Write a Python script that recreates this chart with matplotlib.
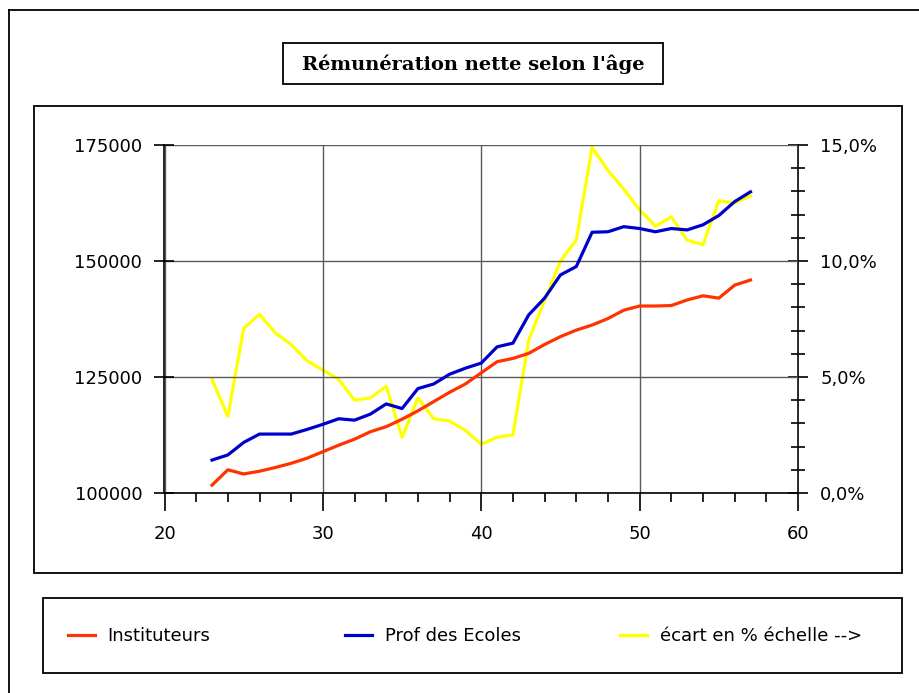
import matplotlib
matplotlib.use("Agg")
import matplotlib.pyplot as plt
from matplotlib.patches import Rectangle
from matplotlib.lines import Line2D
from matplotlib.ticker import MultipleLocator, FuncFormatter

# data
ages = [23, 24, 25, 26, 27, 28, 29, 30, 31, 32, 33, 34, 35, 36, 37, 38, 39, 40,
        41, 42, 43, 44, 45, 46, 47, 48, 49, 50, 51, 52, 53, 54, 55, 56, 57]
instituteurs = [101700, 105000, 104100, 104700, 105500, 106400, 107500, 108900,
                110300, 111600, 113200, 114300, 115900, 117700, 119700, 121700,
                123500, 125900, 128300, 129000, 130100, 132000, 133700, 135100,
                136200, 137600, 139400, 140300, 140300, 140400, 141600, 142500,
                142000, 144800, 145900]
prof_ecoles = [107100, 108200, 110900, 112700, 112700, 112700, 113700, 114800,
               116000, 115700, 117000, 119200, 118200, 122500, 123500, 125600,
               126900, 128000, 131500, 132300, 138400, 142000, 147000, 148800,
               156200, 156300, 157400, 157000, 156300, 157000, 156700, 157800,
               159800, 162800, 164900]
ecart = [4.9, 3.3, 7.1, 7.7, 6.9, 6.4, 5.7, 5.3, 4.9, 4.0, 4.1, 4.6, 2.4, 4.1,
         3.2, 3.1, 2.7, 2.1, 2.4, 2.5, 6.6, 8.3, 10.0, 10.9, 14.9, 13.9, 13.1,
         12.2, 11.5, 11.9, 10.9, 10.7, 12.6, 12.5, 12.8]

labels = ["Instituteurs", "Prof des Ecoles", "écart en % échelle -->"]
colors = ["#ff3300", "#0000cc", "#ffff00"]
title = "Rémunération nette selon l'âge"

W, H = 920, 693
fig = plt.figure(figsize=(W / 100, H / 100), dpi=100)


def box(x0, y0, x1, y1, lw=1.3):
    """rectangle given in pixel coords (origin top left)"""
    r = Rectangle((x0 / W, 1 - y1 / H), (x1 - x0) / W, (y1 - y0) / H,
                  transform=fig.transFigure, fill=False, edgecolor="black",
                  linewidth=lw)
    fig.add_artist(r)


# outer frame (runs off the right and bottom)
fig.add_artist(Line2D([9 / W, 1.0], [1 - 10 / H, 1 - 10 / H],
                      transform=fig.transFigure, color="black", lw=1.3))
fig.add_artist(Line2D([9 / W, 9 / W], [1 - 10 / H, 0.0],
                      transform=fig.transFigure, color="black", lw=1.3))

# title
box(283, 43, 663, 84)
fig.text(473 / W, 1 - 64 / H, title, ha="center", va="center",
         fontfamily="DejaVu Serif", fontweight="bold", fontsize=14)

# plot area frame and legend frame
box(34, 106, 902, 573)
box(43, 598, 902, 673)

ax = fig.add_axes([164.5 / W, 200 / H, 633.5 / W, 348 / H])
ax2 = ax.twinx()

l3, = ax2.plot(ages, ecart, color=colors[2], lw=2.3)
l1, = ax.plot(ages, instituteurs, color=colors[0], lw=2.3)
l2, = ax.plot(ages, prof_ecoles, color=colors[1], lw=2.3)
ax.set_zorder(ax2.get_zorder() + 1)
ax.patch.set_visible(False)

ax.set_xlim(20, 60)
ax.set_ylim(100000, 175000)
ax2.set_ylim(0, 15)

ax.xaxis.set_major_locator(MultipleLocator(10))
ax.xaxis.set_minor_locator(MultipleLocator(2))
ax.yaxis.set_major_locator(MultipleLocator(25000))
ax.yaxis.set_major_formatter(FuncFormatter(lambda v, p: f"{v:.0f}"))
ax2.yaxis.set_major_locator(MultipleLocator(5))
ax2.yaxis.set_minor_locator(MultipleLocator(1))
ax2.yaxis.set_major_formatter(
    FuncFormatter(lambda v, p: f"{v:.1f}%".replace(".", ",")))

ax.grid(True, which="major", color="#5a5a5a", lw=1.0)

for s in ["top", "right"]:
    ax.spines[s].set_visible(False)
for s in ["top", "left", "bottom"]:
    ax2.spines[s].set_visible(False)
ax.spines["left"].set_linewidth(1.2)
ax.spines["bottom"].set_linewidth(1.2)
ax2.spines["right"].set_linewidth(1.2)

ax.tick_params(axis="x", which="major", direction="out", length=13, width=1.2,
               pad=10, labelsize=13)
ax.tick_params(axis="x", which="minor", direction="out", length=6.5, width=1.2)
ax.tick_params(axis="y", which="major", direction="inout", length=14, width=1.2,
               pad=9, labelsize=13)
ax2.tick_params(axis="y", which="major", direction="inout", length=14,
                width=1.2, pad=9, labelsize=13)
ax2.tick_params(axis="y", which="minor", direction="inout", length=9.5,
                width=1.2)

# legend, one entry per slot like the original
slots = [68, 345, 620]
for h, lab, x in zip([l1, l2, l3], labels, slots):
    fig.legend(handles=[h], labels=[lab], loc="center left",
               bbox_to_anchor=(x / W, 1 - 636 / H), frameon=False,
               borderpad=0, borderaxespad=0, handlelength=1.5,
               handletextpad=0.7, fontsize=13)

fig.savefig("out.png", dpi=100)
